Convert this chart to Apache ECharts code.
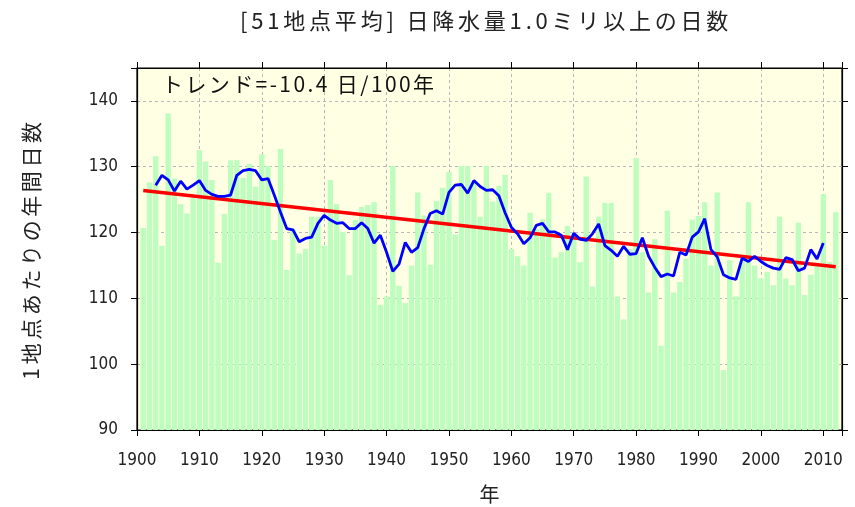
<!DOCTYPE html>
<html>
<head>
<meta charset="utf-8">
<script src="https://cdn.jsdelivr.net/npm/echarts@6/dist/echarts.min.js"></script>
<style>
html,body{margin:0;padding:0;background:#fff;}
#chart{width:855px;height:507px;}
</style>
</head>
<body>
<div id="chart"></div>
<script>
// ---- data ----
var firstYear = 1901;
// annual days with >=1.0 mm, 51-station mean, 1901..2012
var annualDays = [
  120.7, 127.6, 131.6, 118.0, 138.1, 128.2, 124.3, 122.9, 125.5, 132.5, // 1901-1910
  130.8, 128.0, 115.4, 122.8, 131.0, 131.0, 128.3, 130.4, 127.0, 131.9, // 1911-1920
  130.1, 118.9, 132.7, 114.3, 120.5, 116.8, 117.5, 122.4, 122.4, 118.0, // 1921-1930
  128.0, 124.3, 120.1, 113.5, 121.9, 123.9, 124.2, 124.6, 109.0, 110.3, // 1931-1940
  130.1, 111.9, 109.3, 115.0, 126.1, 122.6, 115.1, 124.8, 126.8, 129.2, // 1941-1950
  119.7, 130.1, 130.1, 127.7, 122.4, 130.1, 124.7, 127.1, 128.8, 117.5, // 1951-1960
  116.4, 115.0, 123.0, 120.5, 122.0, 126.0, 116.2, 117.0, 121.0, 119.5, // 1961-1970
  115.5, 128.5, 111.8, 122.4, 124.5, 124.5, 110.3, 106.8, 117.5, 131.3, // 1971-1980
  117.0, 110.9, 119.0, 102.8, 123.3, 110.9, 112.5, 116.0, 122.0, 122.5, // 1981-1990
  124.6, 115.0, 126.1,  99.1, 115.8, 110.3, 115.7, 124.6, 115.0, 113.0, // 1991-2000
  114.0, 112.0, 122.4, 113.0, 112.0, 121.5, 110.5, 113.6, 115.0, 125.8, // 2001-2010
  115.5, 123.1                                                          // 2011-2012
];
// 5-year running mean as drawn (blue), 1903..2010
var meanFirstYear = 1903;
var runningMean = [
  127.2, 128.7, 128.0, 126.3, 127.8, 126.6, 127.2, 127.9,               // 1903-1910
  126.4, 125.8, 125.5, 125.5, 125.7, 128.7, 129.4, 129.6, 129.4, 128.0, // 1911-1920
  128.2, 125.7, 123.1, 120.6, 120.4, 118.6, 119.1, 119.3, 121.4, 122.6, // 1921-1930
  121.9, 121.4, 121.5, 120.6, 120.6, 121.5, 120.6, 118.4, 119.6, 117.0, // 1931-1940
  114.1, 115.2, 118.5, 117.0, 117.7, 120.6, 122.9, 123.3, 122.8, 126.1, // 1941-1950
  127.2, 127.3, 126.0, 127.9, 127.0, 126.4, 126.5, 125.6, 123.0, 120.8, // 1951-1960
  119.8, 118.3, 119.2, 121.1, 121.4, 120.1, 120.1, 119.6, 117.4, 119.9, // 1961-1970
  119.0, 118.8, 119.8, 121.3, 118.0, 117.3, 116.4, 117.9, 116.7, 116.8, // 1971-1980
  119.2, 116.4, 114.7, 113.3, 113.7, 113.4, 117.0, 116.6, 119.3, 120.1, // 1981-1990
  122.1, 117.4, 116.3, 113.6, 113.1, 112.9, 116.1, 115.6, 116.4, 115.6, // 1991-2000
  115.0, 114.6, 114.4, 116.2, 115.9, 114.2, 114.6, 117.4, 116.0, 118.4  // 2001-2010
];
// linear trend end points (year, value)
var trendYears = [1901, 2012];
var trendValues = [126.4, 114.8];

var titleText = '[51地点平均] 日降水量1.0ミリ以上の日数';
var trendLabel = 'トレンド=-10.4 日/100年';
var yAxisName = '1地点あたりの年間日数';
var xAxisName = '年';

// The reference uses a wide-pitch bitmap font: emulate it with canvas letter spacing
// (applied only to these three strings, inside a saved/restored context state).
(function () {
  var spacing = {};
  spacing[titleText] = '3.8px';
  spacing[trendLabel] = '2.4px';
  spacing[yAxisName] = '3.6px';
  var proto = CanvasRenderingContext2D.prototype;
  var origFill = proto.fillText;
  proto.fillText = function (t) {
    var s = spacing[t];
    if (s && ('letterSpacing' in this)) {
      this.save();
      var f = this.font;
      this.letterSpacing = s;
      this.font = f;
      var r = origFill.apply(this, arguments);
      this.restore();
      return r;
    }
    return origFill.apply(this, arguments);
  };
})();

// ---- build series data ----
var barData = annualDays.map(function (v, i) { return [firstYear + i, v]; });
var meanData = runningMean.map(function (v, i) { return [meanFirstYear + i, v]; });
var trendData = trendYears.map(function (y, i) { return [y, trendValues[i]]; });

var numFont = "'DejaVu Sans Condensed', 'Liberation Sans Narrow', 'DejaVu Sans', sans-serif";
var jpFont = "'Noto Sans CJK JP', 'Noto Sans CJK SC', sans-serif";

var chart = echarts.init(document.getElementById('chart'), null, {renderer: 'canvas'});
var gridLine = {show: true, lineStyle: {color: '#b8b8b8', type: [3, 3], width: 1}};
var axLine = {show: true, onZero: false, lineStyle: {color: '#000', width: 1.2}};
var decadeOnly = function (v) { return (v % 10 === 0) ? String(v) : ''; };

chart.setOption({
  animation: false,
  backgroundColor: '#ffffff',
  grid: {left: 137, right: 13, top: 68, bottom: 77, containLabel: false, outerBoundsMode: 'none',
    show: true, backgroundColor: '#ffffe3', borderColor: '#000', borderWidth: 1.2},
  xAxis: [
    {type: 'value', min: 1900, max: 2013, interval: 10, position: 'bottom',
      name: xAxisName, nameLocation: 'middle', nameGap: 54,
      nameTextStyle: {fontFamily: jpFont, fontSize: 20, color: '#222'},
      axisLine: axLine, axisTick: {show: true, inside: false, length: 6, lineStyle: {color: '#000'}},
      axisLabel: {formatter: decadeOnly, margin: 22, fontSize: 17, color: '#222', fontFamily: numFont},
      splitLine: gridLine},
    {type: 'value', min: 1900, max: 2013, interval: 10, position: 'top',
      axisLine: axLine, axisTick: {show: true, inside: false, length: 6, lineStyle: {color: '#000'}},
      axisLabel: {show: false}, splitLine: {show: false}}
  ],
  yAxis: [
    {type: 'value', min: 90, max: 145, interval: 10, position: 'left',
      name: yAxisName, nameLocation: 'middle', nameGap: 95, nameRotate: 90,
      nameTextStyle: {fontFamily: jpFont, fontSize: 21, color: '#222'},
      axisLine: axLine, axisTick: {show: true, inside: false, length: 6, lineStyle: {color: '#000'}},
      axisLabel: {formatter: decadeOnly, margin: 19, fontSize: 17, color: '#222', fontFamily: numFont},
      splitLine: gridLine},
    {type: 'value', min: 90, max: 145, interval: 10, position: 'right',
      axisLine: axLine, axisTick: {show: true, inside: false, length: 6, lineStyle: {color: '#000'}},
      axisLabel: {show: false}, splitLine: {show: false}}
  ],
  series: [
    {type: 'bar', xAxisIndex: 0, yAxisIndex: 0, data: barData, barWidth: 5.3,
      itemStyle: {color: '#bdfdbd'}, clip: true, z: 2},
    {type: 'line', xAxisIndex: 0, yAxisIndex: 0, data: trendData, symbol: 'none',
      lineStyle: {color: '#ff0000', width: 3.5}, z: 3},
    {type: 'line', xAxisIndex: 0, yAxisIndex: 0, data: meanData, symbol: 'none',
      lineStyle: {color: '#0000ff', width: 2.8}, z: 4}
  ],
  graphic: [
    {type: 'text', left: 240, top: 10, z: 100, zlevel: 0,
      style: {text: titleText, font: '22px ' + jpFont, fill: '#222'}},
    {type: 'text', left: 162, top: 74, z: 100, zlevel: 0,
      style: {text: trendLabel, font: '21px ' + jpFont, fill: '#111'}}
  ]
});
</script>
</body>
</html>
